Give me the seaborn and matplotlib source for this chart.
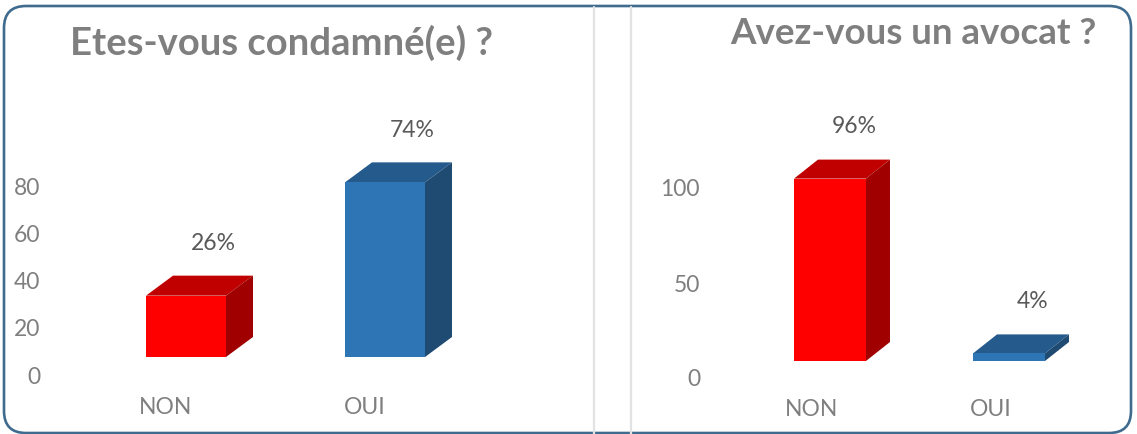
import matplotlib
matplotlib.use("Agg")
import matplotlib.pyplot as plt
import seaborn as sns
import pandas as pd
from matplotlib.patches import Polygon, FancyBboxPatch
from matplotlib.transforms import ScaledTranslation
from matplotlib.lines import Line2D

# ---- data ----
categories = ["NON", "OUI"]
condamne_values = [26, 74]
avocat_values = [96, 4]
condamne_ticks = [0, 20, 40, 60, 80]
avocat_ticks = [0, 50, 100]
titles = ["Etes-vous condamné(e) ?", "Avez-vous un avocat ?"]

front_colors = ["#FF0000", "#2E75B6"]
top_colors = ["#C00000", "#255A8C"]
side_colors = ["#A00000", "#1F4A72"]

W, H, DPI = 1137, 434, 100
sns.set_theme(style="white")
plt.rcParams['font.family'] = ['Lato', 'DejaVu Sans']

fig = plt.figure(figsize=(W / DPI, H / DPI), dpi=DPI)
fig.patch.set_facecolor("white")

# layout specs in pixels (layout only)
panels = [
    dict(values=condamne_values, ticks=condamne_ticks, title=titles[0], title_size=27.5,
         cat0=186, step=199, zero=375, unit=2.36, l=50, r=580, t=90, b=395,
         base=18, dx=27, dy=20, lab_dx=-20, lab_y=32, title_xy=(282, 43)),
    dict(values=avocat_values, ticks=avocat_ticks, title=titles[1], title_size=26.5,
         cat0=830, step=179, zero=378, unit=1.9, l=710, r=1120, t=90, b=395,
         base=17, dx=24, dy=19, lab_dx=-18, lab_y=31, title_xy=(913, 33)),
]

tick_color = "#7F7F7F"
label_color = "#595959"
small = 16.5

for spec in panels:
    rect = [spec["l"] / W, (H - spec["b"]) / H, (spec["r"] - spec["l"]) / W, (spec["b"] - spec["t"]) / H]
    ax = fig.add_axes(rect)
    df = pd.DataFrame({"cat": categories, "val": spec["values"]})
    sns.barplot(data=df, x="cat", y="val", hue="cat", palette=front_colors, saturation=1,
                width=0.402, linewidth=0, legend=False, ax=ax, zorder=3)
    ax.set_xlim((spec["l"] - spec["cat0"]) / spec["step"], (spec["r"] - spec["cat0"]) / spec["step"])
    ax.set_ylim((spec["zero"] - spec["b"]) / spec["unit"], (spec["zero"] - spec["t"]) / spec["unit"])

    shift = ax.transData + ScaledTranslation(0, spec["base"] / DPI, fig.dpi_scale_trans)
    dxd = spec["dx"] / spec["step"]
    dyd = spec["dy"] / spec["unit"]
    for i, p in enumerate(ax.patches):
        x0, w, h = p.get_x(), p.get_width(), p.get_height()
        p.set_transform(shift)
        top = Polygon([(x0, h), (x0 + w, h), (x0 + w + dxd, h + dyd), (x0 + dxd, h + dyd)],
                      closed=True, facecolor=top_colors[i], edgecolor="none", transform=shift, zorder=2)
        side = Polygon([(x0 + w, 0), (x0 + w + dxd, dyd), (x0 + w + dxd, h + dyd), (x0 + w, h)],
                       closed=True, facecolor=side_colors[i], edgecolor="none", transform=shift, zorder=2)
        ax.add_patch(top)
        ax.add_patch(side)
        ax.annotate(f"{spec['values'][i]}%", xy=(x0 + w / 2, h), xytext=(spec["dx"], spec["base"] + 52),
                    textcoords="offset pixels", ha="center", va="center",
                    fontsize=small, color=label_color)
        ax.annotate(categories[i], xy=(x0 + w / 2, 0), xytext=(spec["lab_dx"], -spec["lab_y"]),
                    textcoords="offset pixels", ha="center", va="center",
                    fontsize=small, color=tick_color)

    ax.set_xticks([])
    ax.set_xlabel("")
    ax.set_ylabel("")
    ax.set_yticks(spec["ticks"])
    ax.set_yticklabels([str(t) for t in spec["ticks"]])
    ax.tick_params(axis="y", length=0, pad=7.2, labelsize=small, labelcolor=tick_color)
    for s in ax.spines.values():
        s.set_visible(False)
    ax.set_facecolor("none")

    tx, ty = spec["title_xy"]
    fig.text(tx / W, 1 - ty / H, spec["title"], ha="center", va="center",
             fontsize=spec["title_size"], fontweight="bold", color="#7F7F7F")

# divider lines between the two chart areas
for xpx in (594, 631):
    fig.add_artist(Line2D([xpx / W, xpx / W], [0, (H - 7) / H], transform=fig.transFigure,
                          color="#E2E2E2", lw=1.6))

# rounded outer border
border = FancyBboxPatch((4 / DPI, 1 / DPI), (1131 - 4) / DPI, (433 - 6) / DPI,
                        boxstyle="round,pad=0,rounding_size=0.22",
                        transform=fig.dpi_scale_trans, facecolor="none",
                        edgecolor="#3F6B8E", lw=1.9)
fig.add_artist(border)

fig.savefig("out.png", dpi=DPI)
